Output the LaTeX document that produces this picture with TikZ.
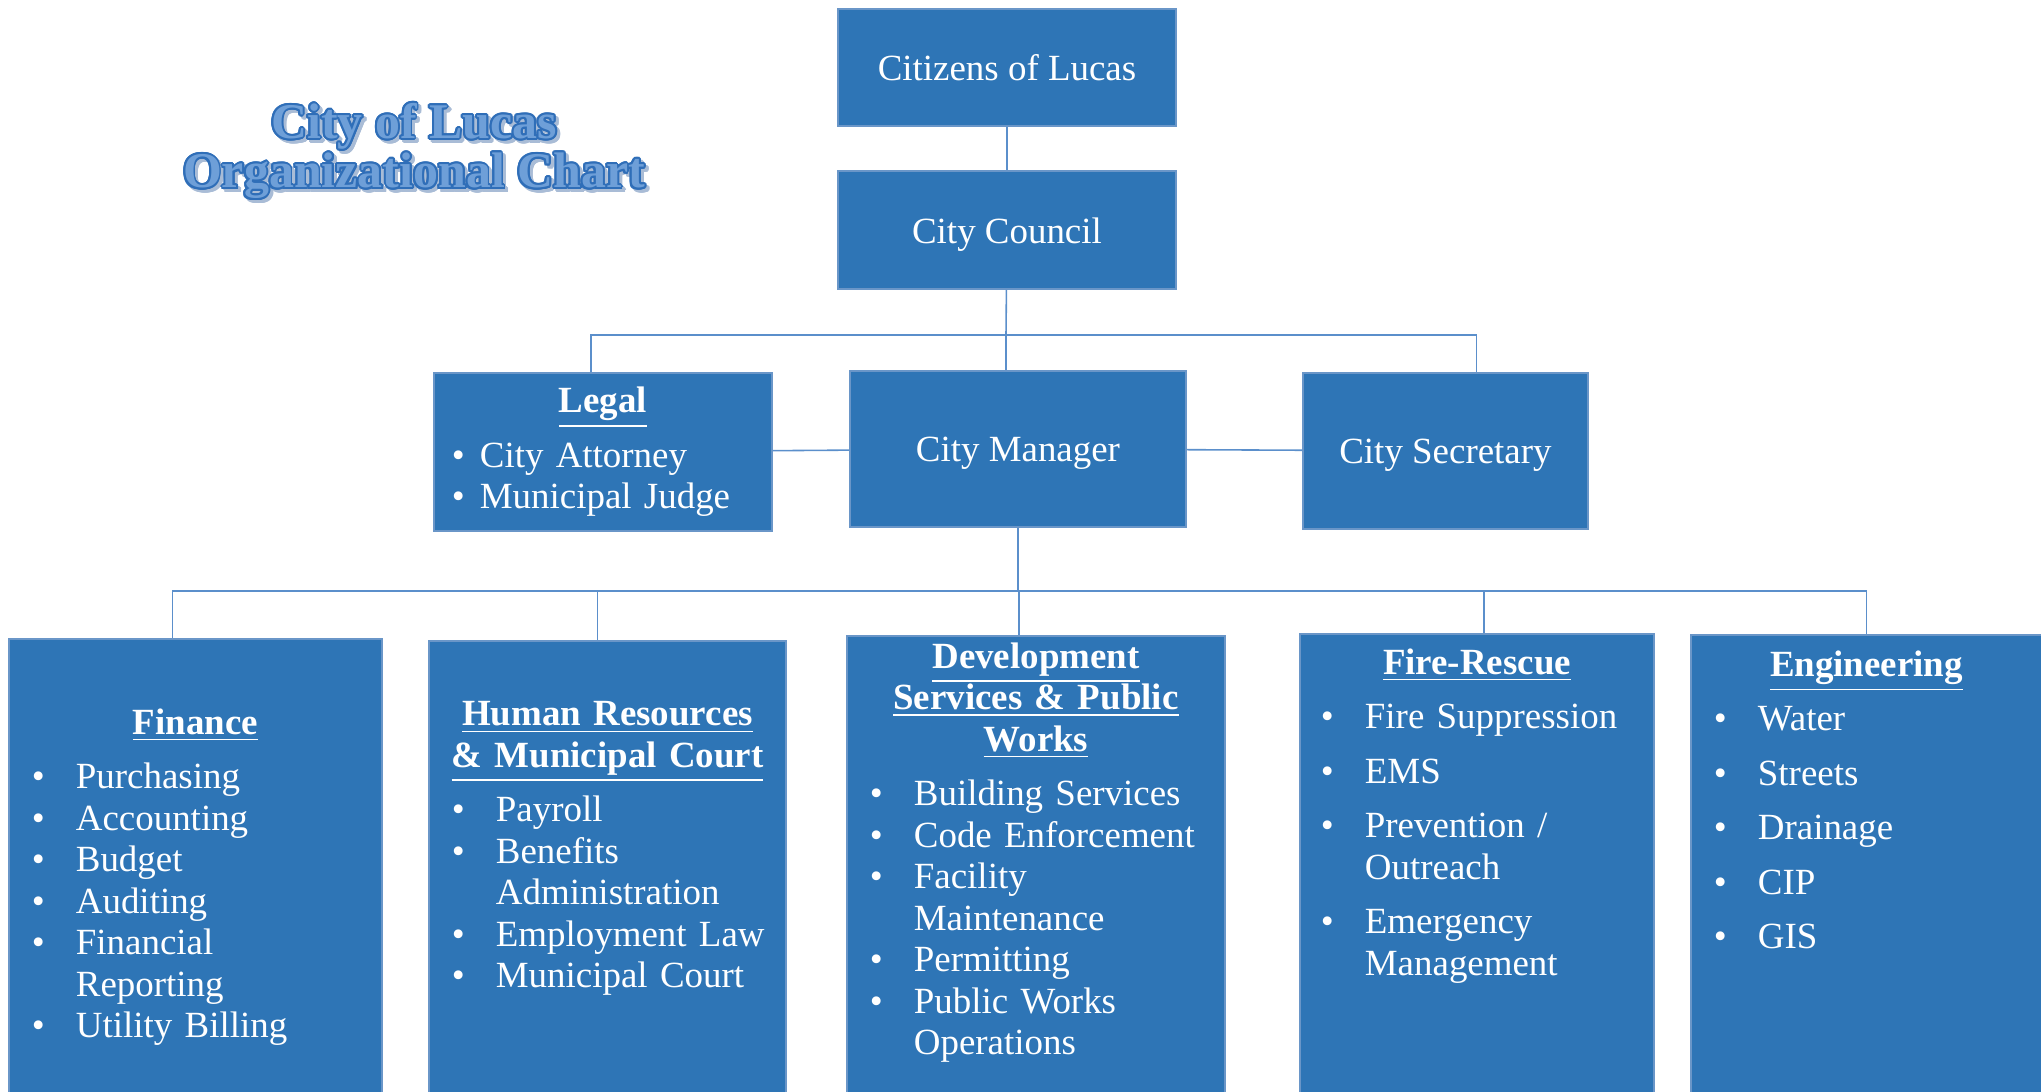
\documentclass[tikz,border=0pt]{standalone}
\usepackage{fontspec}
\setmainfont{Liberation Serif}
\usepackage{contour}
\usetikzlibrary{positioning}

\definecolor{boxblue}{HTML}{2E75B6}
\definecolor{boxedge}{HTML}{6A96C8}
\definecolor{linkblue}{HTML}{5B8FCB}
\definecolor{titlefill}{HTML}{6E9FD8}
\definecolor{titleedge}{HTML}{2F6EB8}
\definecolor{titleshade}{HTML}{A9BCD6}

\contourlength{0.55pt}
\newcommand{\bul}[1][0.44cm]{\makebox[#1][l]{\textbullet}}
\newcommand{\ind}{\hspace*{0.44cm}}
\newcommand{\head}[1]{\makebox[\hsize]{\underline{\textbf{#1}}}}

\begin{document}
\begin{tikzpicture}[x=0.01cm,y=-0.01cm,
  every node/.style={font=\fontsize{10.5}{11.8}\selectfont, text=white},
  orgbox/.style={rectangle, fill=boxblue, draw=boxedge, line width=0.5pt,
    inner sep=0pt, anchor=north west},
  deptlist/.style={inner sep=0pt, align=left},
  titletext/.style={font=\fontsize{14.2}{14}\selectfont\bfseries,
    text=titlefill, align=center},
  link/.style={draw=linkblue, line width=0.45pt}]
  \useasboundingbox (0,0) rectangle (2041,1092);

  % title
  \node[titletext, text=titleshade] (titleshadow) at (417,155)
    {\contour{titleshade}{City of Lucas}\\ \contour{titleshade}{Organizational Chart}};
  \node[titletext] (title) at (414,152)
    {\contour{titleedge}{City of Lucas}\\ \contour{titleedge}{Organizational Chart}};

  % upper levels
  \node[orgbox, minimum width=3.38cm, minimum height=1.17cm] (citizens) at (837,8) {Citizens of Lucas};
  \node[orgbox, minimum width=3.38cm, minimum height=1.18cm, text height=10pt] (council) at (837,170) {City Council};
  \node[orgbox, minimum width=3.38cm, minimum height=1.58cm, text width=3.02cm,
    align=left, inner xsep=0.18cm] (legal) at (433,372)
    {\head{Legal}\\[0.13cm] \bul[0.28cm]City Attorney\\ \bul[0.28cm]Municipal Judge};
  \node[orgbox, minimum width=3.36cm, minimum height=1.56cm, text height=9.5pt] (manager) at (849,370) {City Manager};
  \node[orgbox, minimum width=2.85cm, minimum height=1.56cm, text height=9.5pt] (secretary) at (1302,372) {City Secretary};

  % departments
  \node[orgbox, minimum width=3.73cm, minimum height=4.7cm] (finance) at (8,638) {};
  \node[orgbox, minimum width=3.57cm, minimum height=4.7cm] (hr) at (428,640) {};
  \node[orgbox, minimum width=3.78cm, minimum height=4.7cm] (devworks) at (846,635) {};
  \node[orgbox, minimum width=3.54cm, minimum height=4.7cm] (fire) at (1299,633) {};
  \node[orgbox, minimum width=3.51cm, minimum height=4.7cm] (engineering) at (1690,634) {};

  \node[deptlist, text width=3.27cm, below=0.7cm of finance.north] (financelist)
    {\head{Finance}\\[0.13cm]
     \bul Purchasing\\ \bul Accounting\\ \bul Budget\\ \bul Auditing\\
     \bul Financial\\ \ind Reporting\\ \bul Utility Billing};
  \node[deptlist, text width=3.11cm, below=0.61cm of hr.north] (hrlist)
    {\head{Human Resources}\\ \head{\& Municipal Court}\\[0.13cm]
     \bul Payroll\\ \bul Benefits\\ \ind Administration\\ \bul\mbox{Employment Law}\\
     \bul Municipal Court};
  \node[deptlist, text width=3.32cm, below=0.07cm of devworks.north] (devworkslist)
    {\head{Development}\\ \head{Services \& Public}\\ \head{Works}\\[0.13cm]
     \bul Building Services\\ \bul Code Enforcement\\ \bul Facility\\
     \ind Maintenance\\ \bul Permitting\\ \bul Public Works\\ \ind Operations};
  \node[deptlist, text width=3.12cm, below=0.15cm of fire.north] (firelist)
    {\head{Fire-Rescue}\\[0.13cm]
     \bul Fire Suppression\\[0.13cm] \bul EMS\\[0.13cm] \bul Prevention /\\
     \ind Outreach\\[0.13cm] \bul Emergency\\ \ind Management};
  \node[deptlist, text width=3.05cm, below=0.16cm of engineering.north] (engineeringlist)
    {\head{Engineering}\\[0.13cm]
     \bul Water\\[0.13cm] \bul Streets\\[0.13cm] \bul Drainage\\[0.13cm]
     \bul CIP\\[0.13cm] \bul GIS};

  % connectors
  \coordinate (topbus) at (1006,335);
  \coordinate (lowbus) at (1018,591);
  \draw[link] (citizens) -- (council);
  \draw[link] (council) -- (topbus);
  \draw[link] ([xshift=-0.12cm]legal.north) |- (topbus) -| ([xshift=0.31cm]secretary.north);
  \draw[link] (topbus) -- (topbus |- manager.north);
  \draw[link] (legal) -- (manager);
  \draw[link] (manager) -- (secretary);
  \draw[link] (manager.south) -- (manager.south |- lowbus);
  \draw[link] ([xshift=-0.23cm]finance.north) |- (lowbus) -| (engineering.north);
  \draw[link] ([xshift=-0.1cm]hr.north) -- ([xshift=-0.1cm]hr.north |- lowbus);
  \draw[link] ([xshift=-0.17cm]devworks.north) -- ([xshift=-0.17cm]devworks.north |- lowbus);
  \draw[link] ([xshift=0.07cm]fire.north) -- ([xshift=0.07cm]fire.north |- lowbus);
\end{tikzpicture}
\end{document}
